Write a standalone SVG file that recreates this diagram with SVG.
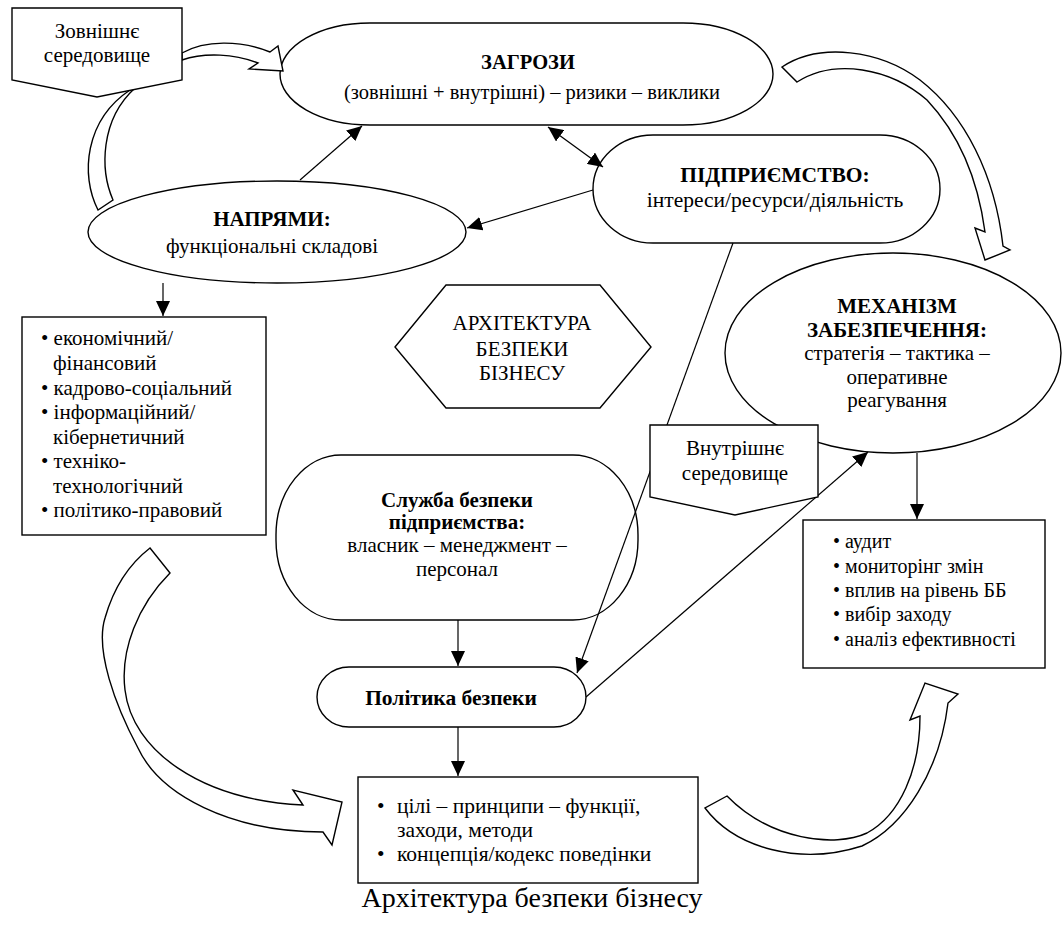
<svg xmlns="http://www.w3.org/2000/svg" width="1062" height="930" viewBox="0 0 1062 930">
<style>
.s{fill:#fff;stroke:#000;stroke-width:1.4}
.n{fill:none;stroke:#000;stroke-width:1.4}
.l{fill:none;stroke:#000;stroke-width:1.2}
.t{font-family:"Liberation Serif","Times New Roman",serif;font-size:21px;fill:#000}
.b{font-weight:bold}
.c{text-anchor:middle}
.m{font-size:21.5px}
.r{font-size:20px}
</style>
<defs>
<marker id="ah" viewBox="0 0 15 14" refX="15" refY="7" markerWidth="15" markerHeight="14" orient="auto-start-reverse" markerUnits="userSpaceOnUse">
<path d="M0,0 L15,7 L0,14 z" fill="#000"/>
</marker>
</defs>
<rect width="1062" height="930" fill="#fff"/>

<g id="zagrozy">
<rect class="s" x="280" y="23" width="493" height="102" rx="90" ry="51"/>
<text class="t b c" x="528" y="69" style="font-size:20.5px">ЗАГРОЗИ</text>
<text class="t c" x="532" y="99" style="font-size:20.5px">(зовнішні + внутрішні) – ризики – виклики</text>
</g>

<g id="pidpryiemstvo">
<rect class="s" x="593" y="135" width="347" height="108" rx="60" ry="54"/>
<text class="t m b c" x="775" y="182">ПІДПРИЄМСТВО:</text>
<text class="t m c" x="775" y="207">інтереси/ресурси/діяльність</text>
</g>

<g id="napriamy">
<ellipse class="s" cx="277" cy="232" rx="189" ry="51"/>
<text class="t b c" x="272" y="226">НАПРЯМИ:</text>
<text class="t c" x="272" y="253">функціональні складові</text>
</g>

<g id="napriamy-list">
<rect class="s" x="22" y="317" width="244" height="218"/>
<text class="t" x="41" y="345">• економічний/</text>
<text class="t" x="53" y="370">фінансовий</text>
<text class="t" x="41" y="395">• кадрово-соціальний</text>
<text class="t" x="41" y="419">• інформаційний/</text>
<text class="t" x="53" y="444">кібернетичний</text>
<text class="t" x="41" y="468">• техніко-</text>
<text class="t" x="53" y="493">технологічний</text>
<text class="t" x="41" y="517">• політико-правовий</text>
</g>

<g id="arkhitektura">
<polygon class="s" points="395,347 446,285 600,285 651,347 600,408 446,408"/>
<text class="t c" x="522" y="330">АРХІТЕКТУРА</text>
<text class="t c" x="522" y="356">БЕЗПЕКИ</text>
<text class="t c" x="522" y="380">БІЗНЕСУ</text>
</g>

<g id="mekhanizm">
<ellipse class="s" cx="893" cy="353" rx="168" ry="100"/>
<text class="t b c" x="897" y="313">МЕХАНІЗМ</text>
<text class="t b c" x="897" y="337">ЗАБЕЗПЕЧЕННЯ:</text>
<text class="t c" x="897" y="360">стратегія – тактика –</text>
<text class="t c" x="897" y="384">оперативне</text>
<text class="t c" x="897" y="407">реагування</text>
</g>

<g id="mekhanizm-list">
<rect class="s" x="803" y="520" width="242" height="148"/>
<text class="t r" x="833" y="548">• аудит</text>
<text class="t r" x="833" y="573">• мониторінг змін</text>
<text class="t r" x="833" y="597">• вплив на рівень ББ</text>
<text class="t r" x="833" y="621">• вибір заходу</text>
<text class="t r" x="833" y="646">• аналіз ефективності</text>
</g>

<g id="sluzhba">
<rect class="n" x="276" y="455" width="362" height="165" rx="65" ry="80"/>
<text class="t b c" x="457" y="507">Служба безпеки</text>
<text class="t b c" x="457" y="529">підприємства:</text>
<text class="t c" x="457" y="552">власник – менеджмент –</text>
<text class="t c" x="457" y="576">персонал</text>
</g>

<g id="polityka">
<rect class="s" x="317" y="667" width="269" height="60" rx="32" ry="30"/>
<text class="t m b c" x="451" y="705">Політика безпеки</text>
</g>

<g id="polityka-list">
<rect class="s" x="358" y="777" width="340" height="106"/>
<text class="t m" x="377" y="813">•</text>
<text class="t m" x="397" y="813">цілі – принципи – функції,</text>
<text class="t m" x="397" y="837">заходи, методи</text>
<text class="t m" x="377" y="861">•</text>
<text class="t m" x="397" y="861">концепція/кодекс поведінки</text>
</g>

<g id="connectors">
<line class="l" x1="300" y1="180" x2="362" y2="126" marker-end="url(#ah)"/>
<line class="l" x1="548" y1="127" x2="603" y2="167" marker-start="url(#ah)" marker-end="url(#ah)"/>
<line class="l" x1="593" y1="190" x2="467" y2="228" marker-end="url(#ah)"/>
<line class="l" x1="163" y1="283" x2="163" y2="316" marker-end="url(#ah)"/>
<line class="l" x1="733" y1="243" x2="577" y2="673" marker-end="url(#ah)"/>
<line class="l" x1="586" y1="697" x2="868" y2="452" marker-end="url(#ah)"/>
<line class="l" x1="917" y1="453" x2="917" y2="519" marker-end="url(#ah)"/>
<line class="l" x1="458" y1="620" x2="458" y2="666" marker-end="url(#ah)"/>
<line class="l" x1="458" y1="727" x2="458" y2="776" marker-end="url(#ah)"/>
<path class="s" d="M98,210 C80,175 85,120 130,90 L135,88 C100,120 100,170 113,200 Z"/>
<path class="s" d="M182,53 C205,40 240,40 270,52 L278,46 L283,71 L249,69 L258,63 C235,54 205,52 182,60 Z"/>
<path class="s" d="M782,67 C820,42 880,50 920,80 C965,115 995,175 1003,246 L1010,250 L985,260 L975,228 L985,232 C978,180 960,135 927,100 C890,68 835,58 797,82 Z"/>
<path class="s" d="M150,548 L170,573 C138,605 120,650 125,690 C132,750 200,800 303,805 L293,790 L342,802 L332,845 L323,832 C230,832 160,795 138,748 C115,705 95,650 105,618 C113,590 128,565 150,548 Z"/>
<path class="s" d="M705,808 C735,848 800,866 862,846 C905,826 940,770 948,703 L958,694 L925,683 L910,720 L920,716 C920,770 900,815 867,833 C835,848 770,840 727,796 Z"/>
</g>

<g id="zovnishnie">
<polygon class="s" points="12,8 182,8 182,80 97,97 12,80"/>
<text class="t c" x="97" y="38">Зовнішнє</text>
<text class="t c" x="97" y="62">середовище</text>
</g>

<g id="vnutrishnie">
<polygon class="s" points="650,425 818,425 818,497 735,515 650,497"/>
<text class="t c" x="735" y="455">Внутрішнє</text>
<text class="t c" x="735" y="480">середовище</text>
</g>

<text class="t c" x="532" y="907" style="font-size:28px">Архітектура безпеки бізнесу</text>
</svg>
